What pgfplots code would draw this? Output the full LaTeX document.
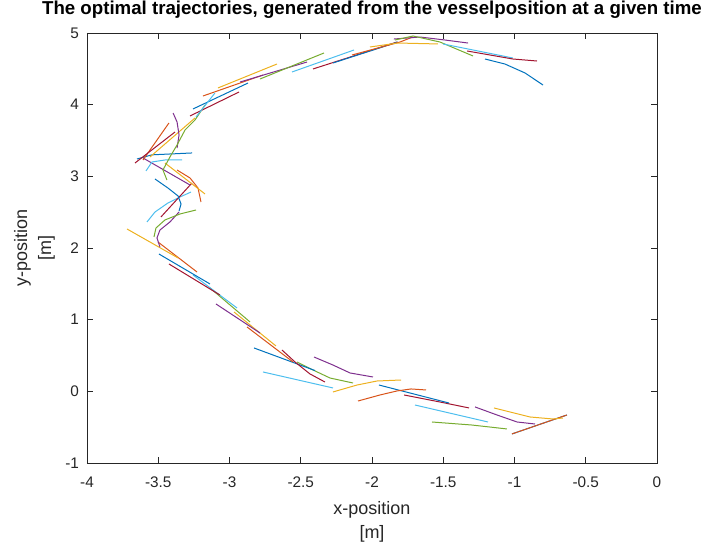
\documentclass[border=0pt]{standalone}
\usepackage{pgfplots}
\pgfplotsset{compat=1.18}
\usepackage{fontspec}
\setmainfont{Liberation Sans}
\definecolor{mB}{RGB}{0,114,189}
\definecolor{mO}{RGB}{217,83,25}
\definecolor{mY}{RGB}{237,177,32}
\definecolor{mP}{RGB}{126,47,142}
\definecolor{mG}{RGB}{119,172,48}
\definecolor{mL}{RGB}{77,190,238}
\definecolor{mR}{RGB}{162,20,47}
\definecolor{axc}{RGB}{38,38,38}
\begin{document}
\begin{tikzpicture}
\begin{axis}[
  name=ax,
  scale only axis,
  width=427.5pt, height=322.5pt,
  xmin=-4, xmax=0, ymin=-1, ymax=5,
  xtick={-4,-3.5,...,0}, ytick={-1,0,...,5},
  xticklabels={-4,-3.5,-3,-2.5,-2,-1.5,-1,-0.5,0},
  yticklabels={-1,0,1,2,3,4,5},
  tick align=inside,
  major tick length=4.5pt,
  axis line style={draw=axc, line width=0.5pt},
  tick style={draw=axc, line width=0.5pt},
  ticklabel style={font=\fontsize{11.5}{13}\selectfont, text=axc},
  xticklabel style={yshift=-7pt},
  yticklabel style={xshift=-2.5pt},
  xlabel={x-position\\{[m]}},
  ylabel={y-position\\{[m]}},
  xlabel style={align=center, font=\fontsize{13.5}{18}\selectfont, text=axc, yshift=-3.5pt},
  ylabel style={align=center, font=\fontsize{13.5}{18}\selectfont, text=axc, yshift=1pt},
  title={The optimal trajectories, generated from the vesselposition at a given time},
  title style={font=\bfseries\fontsize{14}{16}\selectfont, at={(0.5,1)}, anchor=south, yshift=1pt},
  every axis plot/.append style={line width=0.75pt, no marks},
]
% bottom right
\addplot[mB] coordinates {(-1.018,-0.595) (-0.632,-0.330)};
\addplot[mO] coordinates {(-1.018,-0.595) (-0.632,-0.330)};
\addplot[mY] coordinates {(-1.144,-0.232) (-0.891,-0.358) (-0.730,-0.386) (-0.660,-0.372)};
\addplot[mP] coordinates {(-1.277,-0.218) (-1.123,-0.330) (-0.982,-0.428) (-0.856,-0.456)};
\addplot[mG] coordinates {(-1.579,-0.428) (-1.300,-0.470) (-1.053,-0.525)};
\addplot[mL] coordinates {(-1.698,-0.191) (-1.186,-0.428)};
\addplot[mR] coordinates {(-1.775,-0.051) (-1.523,-0.149) (-1.319,-0.232)};
\addplot[mB] coordinates {(-1.951,0.088) (-1.460,-0.163)};
\addplot[mO] coordinates {(-2.098,-0.135) (-1.944,-0.051) (-1.825,0.005) (-1.726,0.033) (-1.621,0.019)};
\addplot[mY] coordinates {(-2.274,-0.009) (-2.105,0.088) (-1.965,0.144) (-1.796,0.158)};
\addplot[mP] coordinates {(-2.407,0.479) (-2.274,0.367) (-2.154,0.256) (-1.993,0.200)};
\addplot[mG] coordinates {(-2.526,0.409) (-2.414,0.298) (-2.295,0.186) (-2.133,0.116)};
\addplot[mL] coordinates {(-2.765,0.270) (-2.274,0.047)};
\addplot[mB] coordinates {(-2.828,0.605) (-2.400,0.290)};
\addplot[mR] coordinates {(-2.632,0.577) (-2.540,0.409) (-2.435,0.242) (-2.330,0.130)};
\addplot[mO] coordinates {(-2.877,0.898) (-2.554,0.409)};
\addplot[mY] coordinates {(-2.968,1.107) (-2.674,0.633)};
\addplot[mP] coordinates {(-3.095,1.219) (-2.786,0.814)};
\addplot[mG] coordinates {(-3.137,1.442) (-2.856,0.968)};
\addplot[mL] coordinates {(-3.256,1.623) (-2.947,1.163)};
\addplot[mB] coordinates {(-3.495,1.916) (-3.137,1.498)};
\addplot[mR] coordinates {(-3.425,1.777) (-3.067,1.344)};
\addplot[mO] coordinates {(-3.502,2.084) (-3.228,1.665)};
\addplot[mY] coordinates {(-3.719,2.265) (-3.361,1.861)};
% left cluster
\addplot[mP] coordinates {(-3.354,2.502) (-3.418,2.363) (-3.488,2.251) (-3.509,2.140) (-3.488,2.014)};
\addplot[mG] coordinates {(-3.530,2.154) (-3.516,2.279) (-3.453,2.391) (-3.347,2.475) (-3.235,2.530)};
\addplot[mL] coordinates {(-3.579,2.363) (-3.523,2.502) (-3.432,2.628) (-3.347,2.712) (-3.270,2.781)};
\addplot[mR] coordinates {(-3.263,2.907) (-3.481,2.433)};
\addplot[mB] coordinates {(-3.523,2.963) (-3.432,2.837) (-3.361,2.726) (-3.340,2.614) (-3.354,2.516)};
\addplot[mO] coordinates {(-3.368,3.088) (-3.277,2.977) (-3.221,2.837) (-3.200,2.642)};
\addplot[mY] coordinates {(-3.453,3.186) (-3.172,2.754)};
\addplot[mP] coordinates {(-3.607,3.256) (-3.277,2.879)};
\addplot[mL] coordinates {(-3.586,3.075) (-3.544,3.200) (-3.453,3.228) (-3.333,3.228)};
\addplot[mB] coordinates {(-3.649,3.242) (-3.544,3.300) (-3.263,3.326)};
\addplot[mO] coordinates {(-3.425,3.744) (-3.607,3.228)};
\addplot[mR] coordinates {(-3.663,3.186) (-3.382,3.619)};
\addplot[mY] coordinates {(-3.558,3.270) (-3.242,3.814)};
\addplot[mP] coordinates {(-3.396,3.884) (-3.368,3.758) (-3.354,3.577) (-3.368,3.395)};
\addplot[mG] coordinates {(-3.439,2.949) (-3.467,3.088) (-3.418,3.270) (-3.368,3.437) (-3.312,3.647) (-3.242,3.786) (-3.172,3.995)};
% upper arc
\addplot[mB] coordinates {(-3.256,3.940) (-2.870,4.302)};
\addplot[mR] coordinates {(-3.277,3.842) (-2.933,4.177)};
\addplot[mL] coordinates {(-3.235,3.828) (-3.102,4.163)};
\addplot[mO] coordinates {(-3.186,4.121) (-2.765,4.414)};
\addplot[mY] coordinates {(-3.081,4.233) (-2.667,4.567)};
\addplot[mP] coordinates {(-2.926,4.316) (-2.456,4.595)};
\addplot[mG] coordinates {(-2.786,4.358) (-2.337,4.721)};
\addplot[mL] coordinates {(-2.561,4.456) (-2.126,4.763)};
\addplot[mR] coordinates {(-2.414,4.498) (-1.825,4.874)};
\addplot[mB] coordinates {(-2.274,4.581) (-1.818,4.874)};
\addplot[mO] coordinates {(-2.140,4.693) (-1.804,4.874) (-1.712,4.945)};
\addplot[mY] coordinates {(-2.014,4.805) (-1.818,4.860) (-1.537,4.847)};
\addplot[mP] coordinates {(-1.846,4.916) (-1.663,4.944) (-1.488,4.902) (-1.326,4.860)};
\addplot[mG] coordinates {(-1.839,4.902) (-1.712,4.958) (-1.523,4.874) (-1.291,4.679)};
\addplot[mL] coordinates {(-1.502,4.847) (-1.011,4.651)};
\addplot[mR] coordinates {(-1.333,4.749) (-1.172,4.693) (-1.011,4.637) (-0.842,4.609)};
\addplot[mB] coordinates {(-1.207,4.637) (-1.067,4.567) (-0.926,4.442) (-0.800,4.274)};
\end{axis}
\pgfresetboundingbox
\path[use as bounding box] ([xshift=-65.25pt,yshift=-65.25pt]ax.south west) rectangle ([xshift=39.75pt,yshift=24.75pt]ax.north east);
\end{tikzpicture}
\end{document}
